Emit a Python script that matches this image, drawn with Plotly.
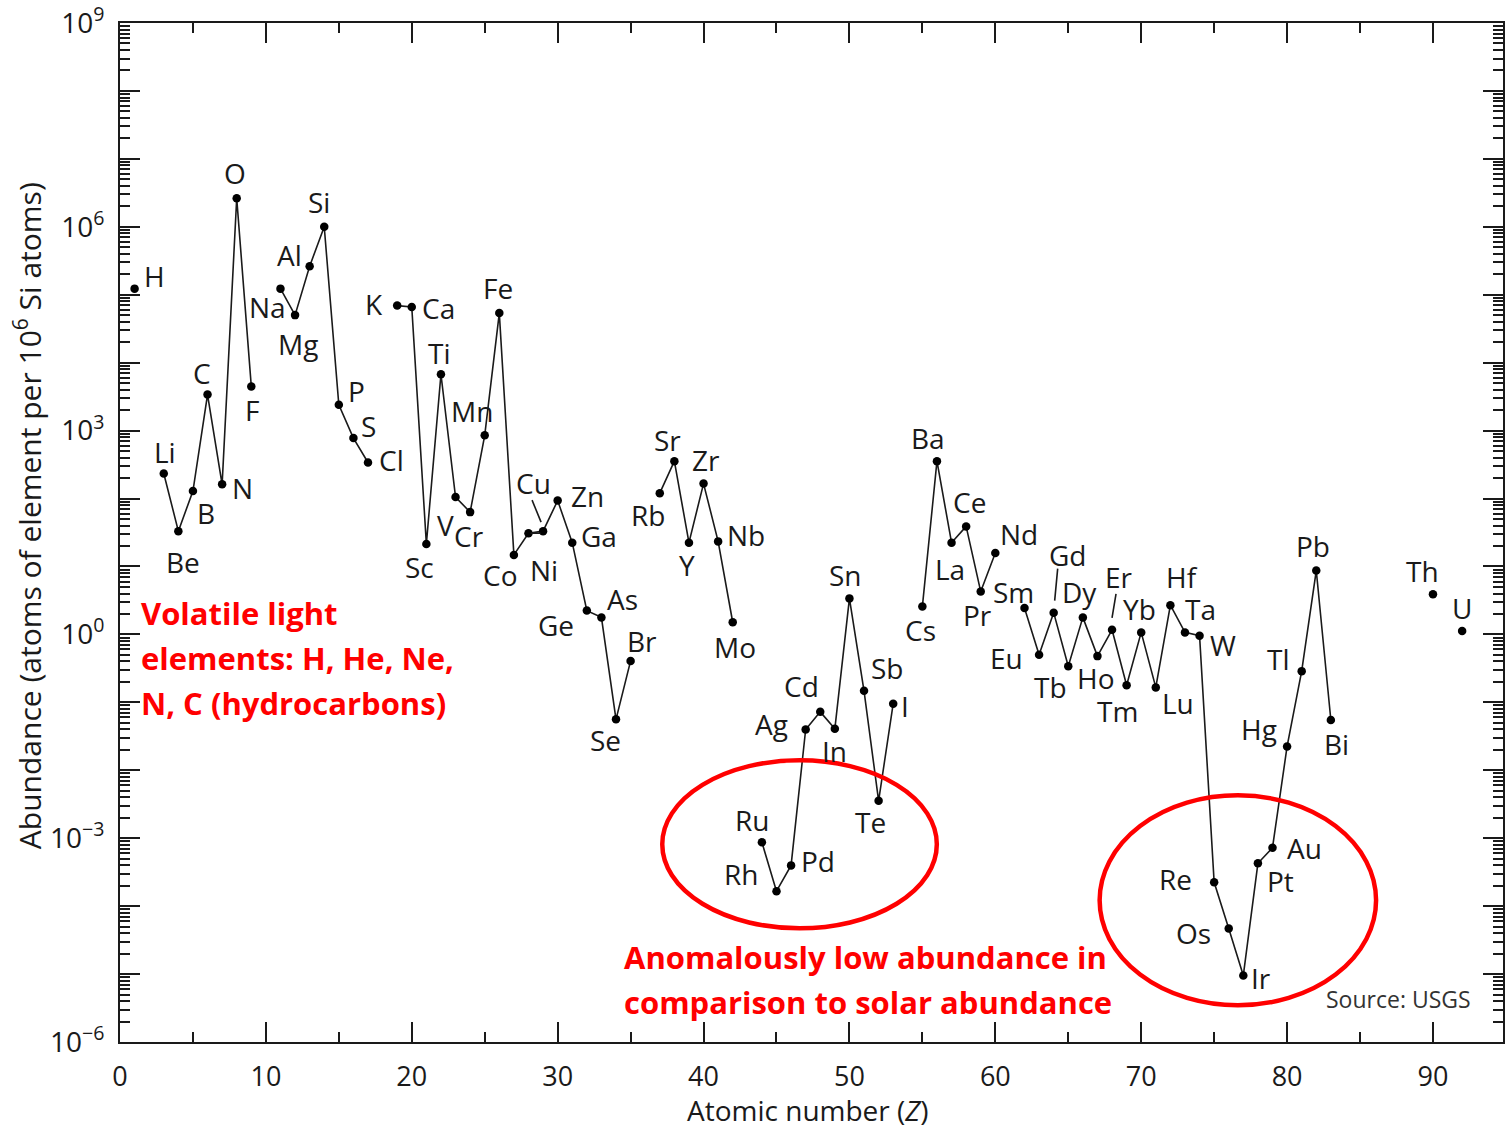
import math
import plotly.graph_objects as go

# ---------------- data ----------------
atomic_number = [1, 3, 4, 5, 6, 7, 8, 9, 11, 12, 13, 14, 15, 16, 17, 19, 20, 21, 22, 23,
                 24, 25, 26, 27, 28, 29, 30, 31, 32, 33, 34, 35, 37, 38, 39, 40, 41, 42,
                 44, 45, 46, 47, 48, 49, 50, 51, 52, 53, 55, 56, 57, 58, 59, 60, 62, 63,
                 64, 65, 66, 67, 68, 69, 70, 71, 72, 73, 74, 75, 76, 77, 78, 79, 80, 81,
                 82, 83, 90, 92]
symbols = ["H", "Li", "Be", "B", "C", "N", "O", "F", "Na", "Mg", "Al", "Si", "P", "S", "Cl",
           "K", "Ca", "Sc", "Ti", "V", "Cr", "Mn", "Fe", "Co", "Ni", "Cu", "Zn", "Ga", "Ge",
           "As", "Se", "Br", "Rb", "Sr", "Y", "Zr", "Nb", "Mo", "Ru", "Rh", "Pd", "Ag", "Cd",
           "In", "Sn", "Sb", "Te", "I", "Cs", "Ba", "La", "Ce", "Pr", "Nd", "Sm", "Eu", "Gd",
           "Tb", "Dy", "Ho", "Er", "Tm", "Yb", "Lu", "Hf", "Ta", "W", "Re", "Os", "Ir", "Pt",
           "Au", "Hg", "Tl", "Pb", "Bi", "Th", "U"]
abundance = [1.23e5, 234, 33.1, 129, 3390, 162, 2.63e6, 4470, 1.23e5, 5.01e4, 2.63e5, 1.0e6,
             2400, 776, 339, 6.92e4, 6.61e4, 21.4, 6760, 105, 63.1, 851, 5.37e4, 14.8, 30.9,
             33.1, 93.3, 22.4, 2.24, 1.78, 0.0562, 0.407, 120, 355, 22.4, 166, 23.4, 1.51,
             8.71e-4, 1.66e-4, 3.98e-4, 0.0398, 0.0724, 0.0407, 3.39, 0.148, 3.55e-3, 0.0955,
             2.57, 355, 22.4, 38.9, 4.27, 15.8, 2.45, 0.501, 2.09, 0.339, 1.78, 0.479, 1.17,
             0.178, 1.07, 0.166, 2.69, 1.07, 0.955, 2.24e-4, 4.68e-5, 9.55e-6, 4.27e-4,
             7.24e-4, 0.0224, 0.288, 8.71, 0.0550, 3.89, 1.12]

x_tick_values = [0, 10, 20, 30, 40, 50, 60, 70, 80, 90]
y_decades = list(range(-6, 10))
y_labelled_decades = [-6, -3, 0, 3, 6, 9]

# ---------------- label placement (pixel offsets of each label from its point) ----------------
label_offsets = {
    "H": (20, -13), "Li": (1, -21), "Be": (5, 31), "B": (13, 22), "C": (-6, -22),
    "N": (20, 4), "O": (-2, -25), "F": (1, 24), "Na": (-13, 18), "Mg": (3, 29),
    "Al": (-20, -11), "Si": (-5, -25), "P": (18, -14), "S": (15, -12), "Cl": (23, -3),
    "K": (-23, -2), "Ca": (27, 1), "Sc": (-7, 23), "Ti": (-1, -21), "V": (-10, 28),
    "Cr": (-1, 24), "Mn": (-13, -24), "Fe": (-1, -25), "Co": (-14, 20), "Ni": (16, 37),
    "Cu": (-10, -48), "Zn": (30, -5), "Ga": (27, -7), "Ge": (-31, 14), "As": (21, -18),
    "Se": (-11, 21), "Br": (11, -20), "Rb": (-12, 22), "Sr": (-7, -21), "Y": (-2, 22),
    "Zr": (2, -24), "Nb": (28, -6), "Mo": (2, 25), "Ru": (-10, -22), "Rh": (-35, -17),
    "Pd": (27, -4), "Ag": (-34, -6), "Cd": (-19, -26), "In": (0, 22), "Sn": (-4, -23),
    "Sb": (23, -23), "Te": (-8, 21), "I": (12, 2), "Cs": (-2, 23), "Ba": (-9, -23),
    "La": (-2, 26), "Ce": (3, -24), "Pr": (-3, 23), "Nd": (24, -19), "Sm": (-11, -16),
    "Eu": (-33, 3), "Gd": (14, -58), "Tb": (-18, 21), "Dy": (-3, -25), "Ho": (-1, 22),
    "Er": (7, -53), "Tm": (-9, 26), "Yb": (-2, -23), "Lu": (22, 16), "Hf": (12, -28),
    "Ta": (16, -23), "W": (23, 9), "Re": (-39, -3), "Os": (-35, 4), "Ir": (18, 3),
    "Pt": (23, 18), "Au": (32, 0), "Hg": (-28, -17), "Tl": (-23, -12), "Pb": (-3, -25),
    "Bi": (6, 24), "Th": (-10, -23), "U": (0, -23),
}
leader_lines = {  # pixel offsets (start, end) relative to the point, screen y downwards
    "Cu": ((-11, -31), (-2, -9)),
    "Ni": ((2, 10), (12, 20)),
    "Gd": ((4, -44), (1, -12)),
    "Er": ((4, -36), (0, -12)),
}

FONT = "Open Sans"
INK = "#1a1a1a"

# line with gaps where elements are missing
line_x, line_y = [], []
prev = None
for z, v in zip(atomic_number, abundance):
    if prev is not None and z - prev > 1:
        line_x.append(None)
        line_y.append(None)
    line_x.append(z)
    line_y.append(v)
    prev = z

fig = go.Figure()
fig.add_trace(go.Scatter(x=line_x, y=line_y, mode="lines", connectgaps=False,
                         line=dict(color=INK, width=1.6), hoverinfo="skip"))
fig.add_trace(go.Scatter(x=atomic_number, y=abundance, mode="markers", text=symbols,
                         marker=dict(color="black", size=8.5)))

annotations = []
for z, v, s in zip(atomic_number, abundance, symbols):
    dx, dy = label_offsets[s]
    annotations.append(dict(x=z, y=math.log10(v), xref="x", yref="y", text=s,
                            showarrow=False, xshift=dx, yshift=-dy,
                            font=dict(family=FONT, size=28, color=INK)))

shapes = []
for s, ((x0, y0), (x1, y1)) in leader_lines.items():
    i = symbols.index(s)
    shapes.append(dict(type="line", xref="x", yref="y", xsizemode="pixel", ysizemode="pixel",
                       xanchor=atomic_number[i], yanchor=abundance[i],
                       x0=x0, x1=x1, y0=-y0, y1=-y1, line=dict(color=INK, width=1.6)))

# red ellipses (x in atomic number, y in abundance units)
shapes.append(dict(type="circle", xref="x", yref="y", x0=37.17, x1=55.99,
                   y0=10 ** -4.327, y1=10 ** -1.853,
                   line=dict(color="#ff0000", width=4.5)))
shapes.append(dict(type="circle", xref="x", yref="y", x0=67.15, x1=86.1,
                   y0=10 ** -5.46, y1=10 ** -2.369,
                   line=dict(color="#ff0000", width=4.5)))

RED_FONT = dict(family="Open Sans", size=31, color="#ff0000")
L, T, W, H = 120, 23, 1385, 1019
text_items = []
for txt, yp in [("<b>Volatile light</b>", 613), ("<b>elements: H, He, Ne,</b>", 658),
                ("<b>N, C (hydrocarbons)</b>", 703)]:
    text_items.append((txt, 139, yp))
for txt, yp in [("<b>Anomalously low abundance in</b>", 957),
                ("<b>comparison to solar abundance</b>", 1002)]:
    text_items.append((txt, 623, yp))
for txt, xp, yp in text_items:
    annotations.append(dict(x=(xp - L) / W, y=1 - (yp - T) / H, xref="paper",
                            yref="paper", text=txt, showarrow=False, xanchor="left",
                            yanchor="middle", font=RED_FONT))

annotations.append(dict(x=1, y=0, xref="paper", yref="paper", text="Source: USGS",
                        showarrow=False, xanchor="right", yanchor="bottom", xshift=-30, yshift=25,
                        font=dict(family=FONT, size=23, color="#333333")))

# axis titles (placed as in the reference)
annotations.append(dict(x=(28 - L) / W, y=1 - (516 - T) / H, xref="paper", yref="paper",
                        text="Abundance (atoms of element per 10<sup>6</sup> Si atoms)",
                        textangle=-90, showarrow=False, xanchor="center", yanchor="middle",
                        font=dict(family=FONT, size=30, color=INK)))
annotations.append(dict(x=(808 - L) / W, y=1 - (1110 - T) / H, xref="paper", yref="paper",
                        text="Atomic number (<i>Z</i>)", showarrow=False,
                        xanchor="center", yanchor="middle",
                        font=dict(family=FONT, size=28, color=INK)))

y_tickvals = [10.0 ** k for k in y_decades]
y_ticktext = [("10<sup>%s</sup>" % (str(k) if k >= 0 else "\u2212" + str(-k)))
              if k in y_labelled_decades else " " for k in y_decades]
y_minor = [m * 10.0 ** k for k in y_decades[:-1] for m in range(2, 10)]

fig.update_layout(
    width=1505, height=1130,
    margin=dict(l=L, r=0, t=T, b=1130 - T - H),
    paper_bgcolor="white", plot_bgcolor="white",
    showlegend=False,
    font=dict(family=FONT, size=28, color=INK),
    annotations=annotations, shapes=shapes,
    xaxis=dict(range=[0, 94.8], tickmode="array", tickvals=x_tick_values,
               ticks="inside", ticklen=20, tickwidth=1.8, tickcolor=INK,
               showline=True, linecolor=INK, linewidth=2, mirror="ticks",
               showgrid=False, zeroline=False, ticklabelstandoff=10,
               tickfont=dict(family=FONT, size=27, color=INK),
               minor=dict(dtick=5, tick0=0, ticks="inside", ticklen=10, tickwidth=1.6,
                          tickcolor=INK, showgrid=False)),
    yaxis=dict(type="log", range=[-6, 9], tickmode="array", tickvals=y_tickvals,
               ticktext=y_ticktext, ticks="inside", ticklen=20, tickwidth=1.8,
               tickcolor=INK, showline=True, linecolor=INK, linewidth=2, mirror="ticks",
               showgrid=False, zeroline=False, ticklabelstandoff=8,
               tickfont=dict(family=FONT, size=28, color=INK),
               minor=dict(tickmode="array", tickvals=y_minor, ticks="inside", ticklen=10,
                          tickwidth=1.6, tickcolor=INK, showgrid=False)),
)

fig.write_html("out.html", config={"displayModeBar": False},
               post_script="document.body.style.margin='0';")
